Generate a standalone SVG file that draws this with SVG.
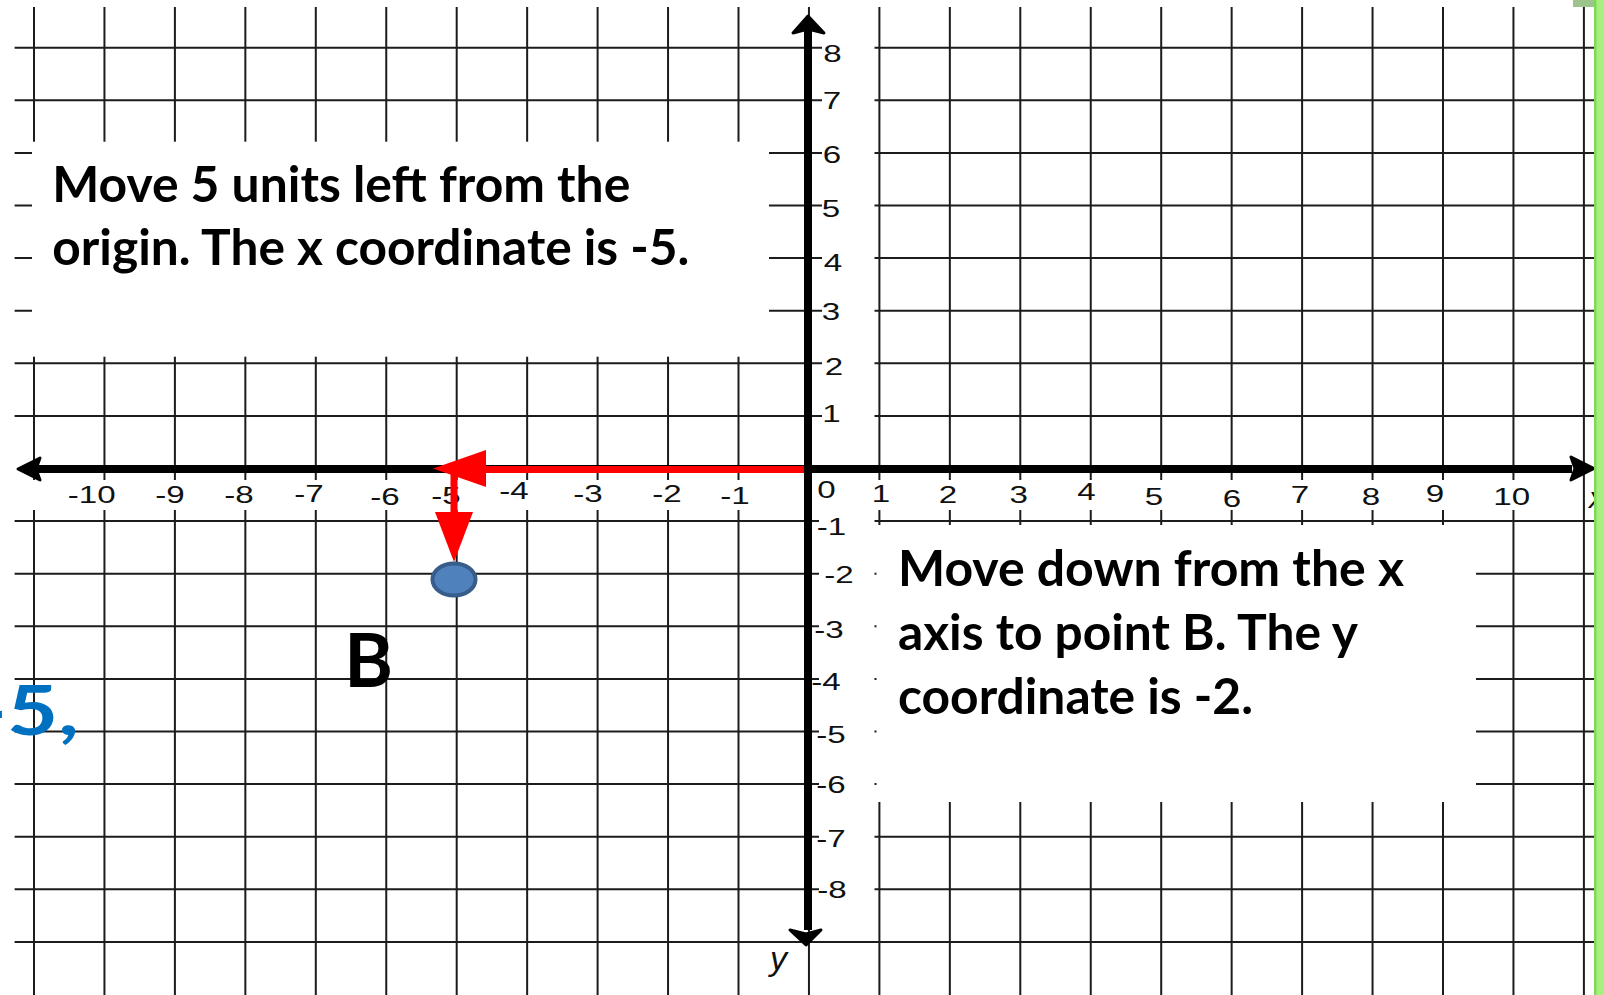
<svg xmlns="http://www.w3.org/2000/svg" width="1604" height="995" viewBox="0 0 1604 995">
<style>
.grid{stroke:#1c1c1c;stroke-width:2;fill:none}
.mask{fill:#fff}
.axis{stroke:#000;stroke-width:8;fill:none}
.head{fill:#000;stroke:#000;stroke-width:3;stroke-linejoin:round}
.tick{font-family:"Liberation Sans",Arial,sans-serif;font-size:24px;fill:#111;text-anchor:middle}
.note{font-family:Lato,"Open Sans",sans-serif;font-weight:700;font-size:49px;fill:#000}
.red{stroke:#ff0000;stroke-width:7;fill:none}
.redhead{fill:#ff0000}
</style>
<rect x="0" y="0" width="1604" height="995" fill="#fff"/>
<g id="grid">
<path class="grid" d="M34 7V995M104.45 7V995M174.9 7V995M245.35 7V995M315.8 7V995M386.25 7V995M456.7 7V995M527.15 7V995M597.6 7V995M668.05 7V995M738.5 7V995M808.95 7V995M879.4 7V995M949.85 7V995M1020.3 7V995M1090.75 7V995M1161.2 7V995M1231.65 7V995M1302.1 7V995M1372.55 7V995M1443 7V995M1513.45 7V995M1583.9 7V995"/>
<path class="grid" d="M14.6 47.7H1595M14.6 100.3H1595M14.6 152.9H1595M14.6 205.5H1595M14.6 258.1H1595M14.6 310.7H1595M14.6 363.3H1595M14.6 415.9H1595M14.6 521.1H1595M14.6 573.7H1595M14.6 626.3H1595M14.6 678.9H1595M14.6 731.5H1595M14.6 784.1H1595M14.6 836.7H1595M14.6 889.3H1595M14.6 941.9H1595"/>
<rect class="mask" x="14" y="480" width="1562" height="30"/>
<rect class="mask" x="812" y="7" width="62.5" height="928"/>
<path class="grid" d="M812 47.7H822M812 100.3H822M812 152.9H822M812 205.5H822M812 258.1H822M812 310.7H822M812 363.3H822M812 415.9H822M812 521.1H819M812 573.7H819M812 626.3H819M812 678.9H819M812 731.5H819M812 784.1H819M812 836.7H819M812 889.3H819"/>
</g>
<g id="axes">
<path class="axis" d="M36 469H1572"/>
<path class="axis" d="M808 30V930"/>
<path class="head" d="M18 469L40 458L36 469L40 480Z"/>
<path class="head" d="M1594 468.5L1571 457L1575 468.5L1571 480Z"/>
<path class="head" d="M808 16L793 33L808 29L824 33Z"/>
<path class="head" d="M806 945L790 930L806 934L821 930Z"/>
</g>
<g id="x-labels">
<text class="tick" transform="translate(91.7,502.5) scale(1.38,1)">-10</text>
<text class="tick" transform="translate(170,503) scale(1.38,1)">-9</text>
<text class="tick" transform="translate(239,503) scale(1.38,1)">-8</text>
<text class="tick" transform="translate(309,502) scale(1.38,1)">-7</text>
<text class="tick" transform="translate(385,505) scale(1.38,1)">-6</text>
<text class="tick" transform="translate(446,504) scale(1.38,1)">-5</text>
<text class="tick" transform="translate(514,498.5) scale(1.38,1)">-4</text>
<text class="tick" transform="translate(588,502) scale(1.38,1)">-3</text>
<text class="tick" transform="translate(667,501.5) scale(1.38,1)">-2</text>
<text class="tick" transform="translate(735,503.5) scale(1.38,1)">-1</text>
<text class="tick" transform="translate(826.5,498) scale(1.38,1)">0</text>
<text class="tick" transform="translate(881,501.5) scale(1.38,1)">1</text>
<text class="tick" transform="translate(948,503) scale(1.38,1)">2</text>
<text class="tick" transform="translate(1018.7,503) scale(1.38,1)">3</text>
<text class="tick" transform="translate(1086.5,500) scale(1.38,1)">4</text>
<text class="tick" transform="translate(1154,505) scale(1.38,1)">5</text>
<text class="tick" transform="translate(1232,506.5) scale(1.38,1)">6</text>
<text class="tick" transform="translate(1300,503) scale(1.38,1)">7</text>
<text class="tick" transform="translate(1371,505) scale(1.38,1)">8</text>
<text class="tick" transform="translate(1435,501.5) scale(1.38,1)">9</text>
<text class="tick" transform="translate(1511.7,505) scale(1.38,1)">10</text>
</g>
<g id="y-labels">
<text class="tick" transform="translate(832.5,61.5) scale(1.38,1)">8</text>
<text class="tick" transform="translate(832,109.3) scale(1.38,1)">7</text>
<text class="tick" transform="translate(832,162.5) scale(1.38,1)">6</text>
<text class="tick" transform="translate(831,217.3) scale(1.38,1)">5</text>
<text class="tick" transform="translate(833,270.7) scale(1.38,1)">4</text>
<text class="tick" transform="translate(831,320) scale(1.38,1)">3</text>
<text class="tick" transform="translate(834,375) scale(1.38,1)">2</text>
<text class="tick" transform="translate(831.5,421.5) scale(1.38,1)">1</text>
<text class="tick" transform="translate(831.5,535) scale(1.38,1)">-1</text>
<text class="tick" transform="translate(839,583) scale(1.38,1)">-2</text>
<text class="tick" transform="translate(829,638) scale(1.38,1)">-3</text>
<text class="tick" transform="translate(826,690) scale(1.38,1)">-4</text>
<text class="tick" transform="translate(831,743) scale(1.38,1)">-5</text>
<text class="tick" transform="translate(831,793) scale(1.38,1)">-6</text>
<text class="tick" transform="translate(831,846.5) scale(1.38,1)">-7</text>
<text class="tick" transform="translate(832,898) scale(1.38,1)">-8</text>
</g>
<g id="axis-names">
<text x="770" y="970" font-family="Liberation Sans, Arial, sans-serif" font-style="italic" font-size="34" fill="#111">y</text>
<text x="1589" y="508" font-family="Liberation Sans, Arial, sans-serif" font-style="italic" font-size="30" fill="#111">x</text>
</g>
<g id="box-left">
<rect class="mask" x="32" y="141.7" width="737" height="215"/>
<text class="note" x="52.3" y="201.7" textLength="578" lengthAdjust="spacingAndGlyphs">Move 5 units left from the</text>
<text class="note" x="52.3" y="265" textLength="637" lengthAdjust="spacingAndGlyphs">origin. The x coordinate is -5.</text>
</g>
<g id="box-right">
<rect class="mask" x="876.5" y="525" width="599.5" height="277"/>
<text class="note" x="898" y="586" textLength="506" lengthAdjust="spacingAndGlyphs">Move down from the x</text>
<text class="note" x="898" y="650" textLength="460" lengthAdjust="spacingAndGlyphs">axis to point B. The y</text>
<text class="note" x="898" y="714" textLength="355" lengthAdjust="spacingAndGlyphs">coordinate is -2.</text>
</g>
<g id="connectors">
<path class="red" d="M804 469.5H482"/>
<path class="redhead" d="M433 468.5L486 450L486 487Z"/>
<path class="red" d="M454 469V514"/>
<path class="redhead" d="M435 512L473 512L454 562Z"/>
</g>
<g id="point-B">
<ellipse cx="454" cy="579.5" rx="21.5" ry="16" fill="#4f81bd" stroke="#385d8a" stroke-width="4"/>
<text x="368.5" y="687" font-family="Lato, 'Open Sans', sans-serif" font-weight="700" font-size="74" fill="#000" text-anchor="middle">B</text>
</g>
<g id="side-text">
<text transform="translate(-26,735) scale(1.3,1)" font-family="Lato, 'Open Sans', sans-serif" font-weight="700" font-size="68" fill="#0070c0">-5,</text>
</g>
<g id="edge">
<rect x="1594" y="0" width="10" height="995" fill="#a6ef80"/>
<rect x="1594" y="0" width="2.5" height="995" fill="#7ed957"/>
<rect x="1573" y="0" width="21" height="7" fill="#9cc48c"/>
</g>
</svg>
